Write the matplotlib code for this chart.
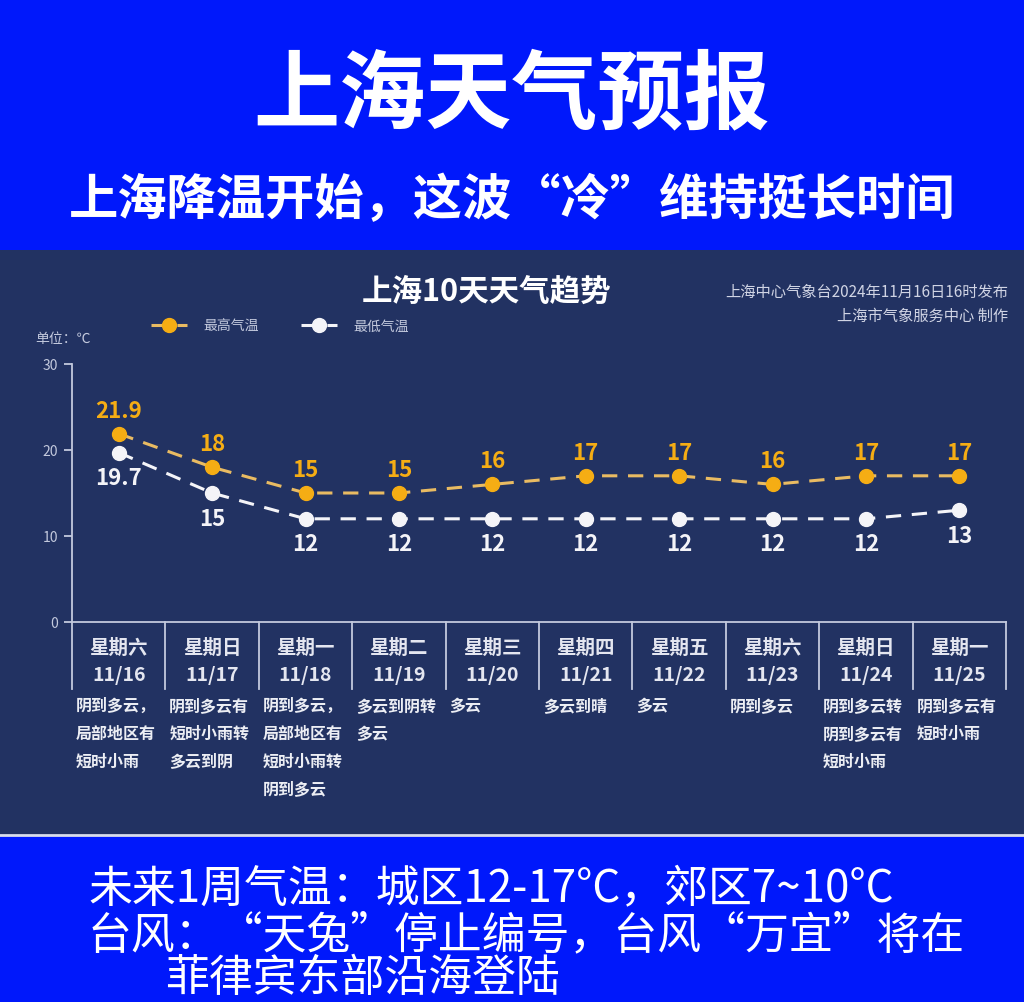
import matplotlib
matplotlib.use("Agg")
import matplotlib.pyplot as plt
import matplotlib.transforms as mtransforms
from matplotlib.patches import Rectangle
from matplotlib.lines import Line2D

plt.rcParams['font.family'] = ['Noto Sans CJK SC', 'DejaVu Sans']
plt.rcParams['axes.unicode_minus'] = False

# 数据
weekdays = ['星期六', '星期日', '星期一', '星期二', '星期三',
            '星期四', '星期五', '星期六', '星期日', '星期一']
dates = ['11/16', '11/17', '11/18', '11/19', '11/20',
         '11/21', '11/22', '11/23', '11/24', '11/25']
high_temp = [21.9, 18, 15, 15, 16, 17, 17, 16, 17, 17]
low_temp = [19.7, 15, 12, 12, 12, 12, 12, 12, 12, 13]
weather = [
    ['阴到多云，', '局部地区有', '短时小雨'],
    ['阴到多云有', '短时小雨转', '多云到阴'],
    ['阴到多云，', '局部地区有', '短时小雨转', '阴到多云'],
    ['多云到阴转', '多云'],
    ['多云'],
    ['多云到晴'],
    ['多云'],
    ['阴到多云'],
    ['阴到多云转', '阴到多云有', '短时小雨'],
    ['阴到多云有', '短时小雨'],
]
y_ticks = [0, 10, 20, 30]

# 颜色
top_blue = '#0018fb'
panel = '#223262'
orange = '#f5ad14'
orange_line = '#e9bb62'
white = '#f4f4f8'
grey = '#c3c9dd'

W, H = 1024, 1003
fig = plt.figure(figsize=(W / 100, H / 100), dpi=100)
fig.patch.set_facecolor(panel)


def fy(py):
    return 1 - py / H


def fx(px):
    return px / W


# 背景块
fig.patches.append(Rectangle((0, fy(251)), 1, fy(0) - fy(251), transform=fig.transFigure,
                             facecolor=top_blue, edgecolor='none', zorder=0))
fig.patches.append(Rectangle((0, 0), 1, fy(837), transform=fig.transFigure,
                             facecolor=top_blue, edgecolor='none', zorder=0))
fig.add_artist(Line2D([0, 1], [fy(835.5), fy(835.5)], transform=fig.transFigure,
                      color='#d8dcea', lw=2))

# 顶部标题
fig.text(0.5, fy(96), '上海天气预报', ha='center', va='center', color='white',
         fontsize=62, fontweight='bold')
fig.text(0.5, fy(200), '上海降温开始，这波“冷”维持挺长时间', ha='center', va='center',
         color='white', fontsize=35.5, fontweight='bold')

# 图表标题与来源
fig.text(fx(487), fy(292), '上海10天天气趋势', ha='center', va='center', color='white',
         fontsize=22, fontweight='bold')
fig.text(fx(1008), fy(292), '上海中心气象台2024年11月16日16时发布', ha='right', va='center',
         color='#d0d4e4', fontsize=11)
fig.text(fx(1008), fy(316), '上海市气象服务中心 制作', ha='right', va='center',
         color='#d0d4e4', fontsize=11)
fig.text(fx(35), fy(339), '单位：℃', ha='left', va='center', color=grey, fontsize=10)

# 折线图
ax = fig.add_axes([fx(72), fy(623), fx(1006) - fx(72), fy(365) - fy(623)])
ax.set_facecolor('none')
x = list(range(len(dates)))
ax.plot(x, high_temp, color=orange_line, lw=2.2, dashes=(5, 3.5), marker='o',
        markersize=10, markerfacecolor=orange, markeredgecolor=orange, zorder=3,
        label='最高气温')
ax.plot(x, low_temp, color=white, lw=2.2, dashes=(5, 3.5), marker='o',
        markersize=10, markerfacecolor=white, markeredgecolor=white, zorder=3,
        label='最低气温')

for xi, v in zip(x, high_temp):
    ax.annotate(f'{v:g}', (xi, v), xytext=(0, 17), textcoords='offset points',
                ha='center', va='center', color=orange, fontsize=16, fontweight='bold')
for xi, v in zip(x, low_temp):
    ax.annotate(f'{v:g}', (xi, v), xytext=(0, -18), textcoords='offset points',
                ha='center', va='center', color=white, fontsize=16, fontweight='bold')

ax.set_xlim(-0.5, len(dates) - 0.5)
ax.set_ylim(0, 30)
ax.set_yticks(y_ticks)
ax.set_xticks([])
for s in ['top', 'right']:
    ax.spines[s].set_visible(False)
ax.spines['left'].set_color(grey)
ax.spines['bottom'].set_color(grey)
ax.spines['left'].set_linewidth(1.3)
ax.spines['bottom'].set_linewidth(1.3)
ax.tick_params(axis='y', colors=grey, labelsize=10, length=6, width=1.3, pad=4)

# 表格部分
trans = mtransforms.blended_transform_factory(ax.transData, ax.transAxes)
for b in range(len(dates) + 1):
    ax.plot([b - 0.5, b - 0.5], [0, -0.26], transform=trans, color=grey, lw=1.3,
            clip_on=False)
for xi in x:
    ax.text(xi, -0.097, weekdays[xi], transform=trans, ha='center', va='center',
            color='#e4e6f0', fontsize=14, fontweight='bold')
    ax.text(xi, -0.205, dates[xi], transform=trans, ha='center', va='center',
            color='#e4e6f0', fontsize=14, fontweight='bold')
    for k, line in enumerate(weather[xi]):
        ax.text(xi - 0.46, -0.32 - k * 0.1085, line, transform=trans, ha='left',
                va='center', color='#eceef4', fontsize=11.5, fontweight='bold')

# 图例
fig.legend(loc='center', bbox_to_anchor=(fx(280), fy(327)), ncol=2, frameon=False,
           fontsize=10, labelcolor=grey, handlelength=2.6, columnspacing=3.0,
           handletextpad=1.2)

# 底部文字
fig.text(fx(88), fy(888), '未来1周气温：城区12-17°C，郊区7~10°C', ha='left', va='center',
         color='white', fontsize=31.6)
fig.text(fx(88), fy(935), '台风：“天兔”停止编号，台风“万宜”将在', ha='left', va='center',
         color='white', fontsize=31.6)
fig.text(fx(165), fy(978), '菲律宾东部沿海登陆', ha='left', va='center',
         color='white', fontsize=31.6)

fig.savefig('out.png', dpi=100, facecolor=fig.get_facecolor())
